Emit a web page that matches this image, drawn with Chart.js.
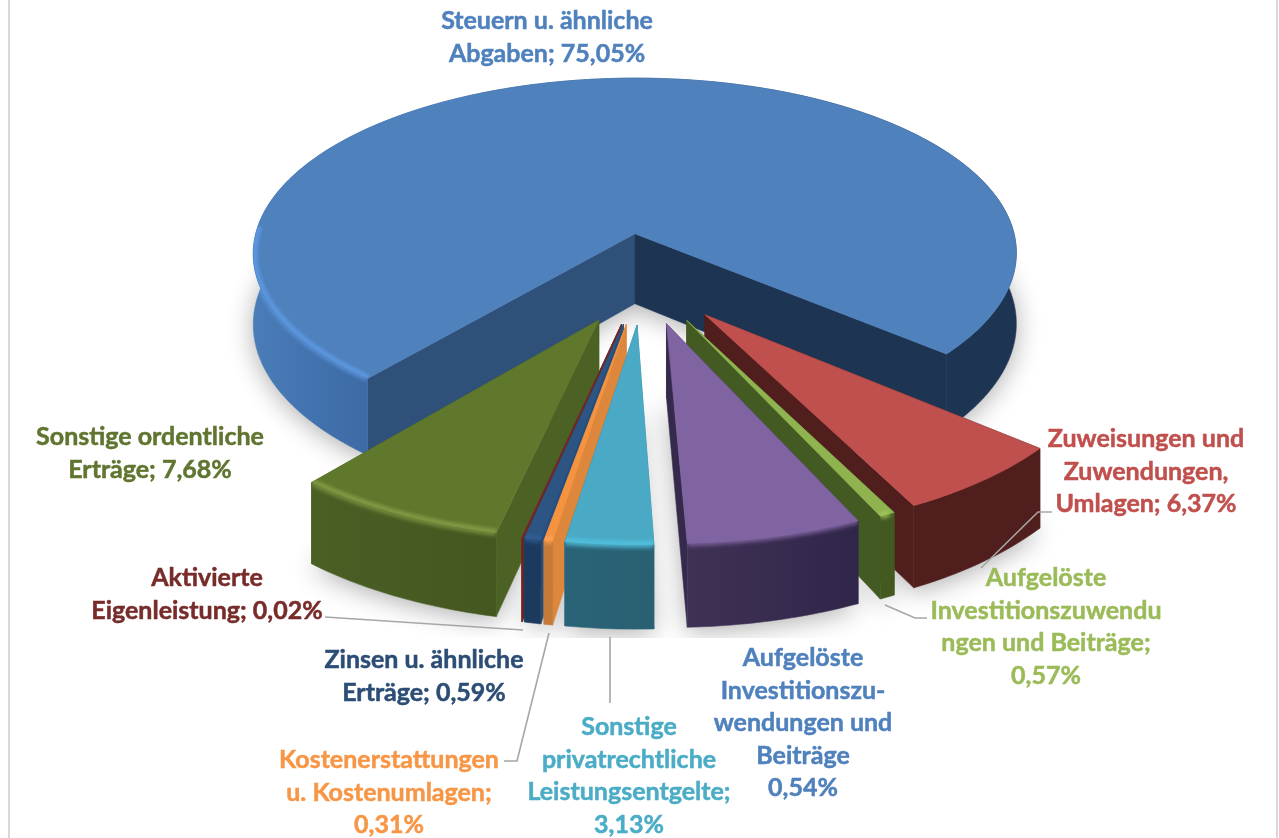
<!DOCTYPE html>
<html lang="de">
<head>
<meta charset="utf-8">
<title>Erträge</title>
<script src="https://cdn.jsdelivr.net/npm/chart.js@4/dist/chart.umd.min.js"></script>
<style>
    html, body { margin: 0; background: #fff; }
    canvas { display: block; }
</style>
</head>
<body>
<canvas id="pieChart" width="1279" height="838"></canvas>
<script>
// Slices clockwise, starting with the big blue one
const categories = [
    'Steuern u. ähnliche Abgaben',
    'Zuweisungen und Zuwendungen, Umlagen',
    'Aufgelöste Investitionszuwendungen und Beiträge (grün)',
    'Aufgelöste Investitionszuwendungen und Beiträge (lila)',
    'Sonstige privatrechtliche Leistungsentgelte',
    'Kostenerstattungen u. Kostenumlagen',
    'Zinsen u. ähnliche Erträge',
    'Aktivierte Eigenleistung',
    'Sonstige ordentliche Erträge'
];
// the purple slice is labelled 0,54% in the picture but is drawn about 6,28% wide
const sliceValues = [75.05, 6.37, 0.57, 6.28, 3.13, 0.31, 0.59, 0.02, 7.68];
const labelTexts = [
    ['Steuern u. ähnliche', 'Abgaben; 75,05%'],
    ['Zuweisungen und', 'Zuwendungen,', 'Umlagen; 6,37%'],
    ['Aufgelöste', 'Investitionszuwendu', 'ngen und Beiträge;', '0,57%'],
    ['Aufgelöste', 'Investitionszu-', 'wendungen und', 'Beiträge', '0,54%'],
    ['Sonstige', 'privatrechtliche', 'Leistungsentgelte;', '3,13%'],
    ['Kostenerstattungen', 'u. Kostenumlagen;', '0,31%'],
    ['Zinsen u. ähnliche', 'Erträge; 0,59%'],
    ['Aktivierte', 'Eigenleistung; 0,02%'],
    ['Sonstige ordentliche', 'Erträge; 7,68%']
];

// --- styles, same order as the slices ---
const topColors = ['#4f81bd', '#c0504d', '#8fb34e', '#8064a2', '#4aaac5', '#f59340', '#2c5583', '#772c2a', '#60782c'];
const rimColors = ['#5b95dc', '#c0504d', '#9cc25a', '#8064a2', '#50bcd8', '#fba052', '#2f5d92', '#772c2a', '#7d9642'];
const wallColors = [
    ['#4a7cb8', '#1d3553'], ['#501f1d', '#501f1d'], ['#43591f', '#43591f'], ['#3f3154', '#30264a'],
    ['#2a6377', '#2a6072'], ['#c47a38', '#c47a38'], ['#1c3a5e', '#1c3a5e'], ['#6b2523', '#6b2523'], ['#4a5f24', '#435720']
];
// first = face on the start edge, second = face on the end edge
const faceColors = [
    ['#2f5079', '#1d3553'], ['#501f1d', '#501f1d'], ['#435a22', '#435a22'], ['#362a4c', '#362a4c'],
    ['#2f8099', '#2f8099'], ['#dc873c', '#dc873c'], ['#264d7c', '#264d7c'], ['#6b2523', '#6b2523'], ['#4c6124', '#4c6124']
];
const labelColors = ['#4f81bd', '#c0504d', '#9bbb59', '#4f81bd', '#4bacc6', '#f79646', '#2c4d75', '#772c2a', '#5f7530'];
const labelCenters = [[547, 21], [1146, 439], [1046, 578], [803, 658], [629, 727], [389, 760], [424, 660], [207, 578], [150, 437]];
const lineHeight = 32.6;
const leaderLines = [
    [[325, 617], [523, 630]],
    [[504, 761], [517, 761], [549, 633]],
    [[610, 637], [610, 703]],
    [[1052, 512], [1038, 512], [981, 568]],
    [[927, 618], [915, 618], [885, 605]]
];
const drawOrder = [0, 8, 1, 2, 3, 7, 6, 5, 4];

// perspective of the tilted pie, in fractions of the radius
const tiltX = 0.975, tiltY = 0.4575, nearness = 0.115, depth = 72, shadowClipY = 638;

function project(arc, px, py, down) {
    const d = 1 - nearness * py;
    const r = arc.outerRadius;
    return {
        x: arc.x + r * tiltX * px / d,
        y: arc.y + r * tiltY * py / d + (down ? depth / d : 0)
    };
}

// tip and arc outline of one slice, exploded along its middle angle
function slicePoints(arc, down) {
    const mid = (arc.startAngle + arc.endAngle) / 2;
    const explode = arc.options.offset / arc.outerRadius;
    const ox = Math.cos(mid) * explode, oy = Math.sin(mid) * explode;
    const steps = Math.max(2, Math.ceil((arc.endAngle - arc.startAngle) * 60));
    const rim = [];
    for (let i = 0; i <= steps; i++) {
        const a = arc.startAngle + (arc.endAngle - arc.startAngle) * i / steps;
        const p = project(arc, ox + Math.cos(a), oy + Math.sin(a), down);
        // only the front left of the rim catches the light
        p.lit = Math.sin(a) > -0.05 && Math.cos(a) < 0.45;
        rim.push(p);
    }
    return { tip: project(arc, ox, oy, down), rim: rim };
}

function tracePoly(ctx, pts) {
    ctx.beginPath();
    pts.forEach((p, i) => i ? ctx.lineTo(p.x, p.y) : ctx.moveTo(p.x, p.y));
    ctx.closePath();
}

function fillPoly(ctx, pts, color) {
    tracePoly(ctx, pts);
    ctx.fillStyle = color;
    ctx.fill();
    ctx.strokeStyle = color;
    ctx.lineWidth = 0.6;
    ctx.stroke();
}

function strokeLitRim(ctx, rim, color, width, blur) {
    ctx.filter = 'blur(' + blur + 'px)';
    ctx.beginPath();
    rim.forEach((p, k) => {
        if (!p.lit) return;
        if (k && rim[k - 1].lit) ctx.lineTo(p.x, p.y);
        else ctx.moveTo(p.x, p.y);
    });
    ctx.strokeStyle = color;
    ctx.lineWidth = width;
    ctx.stroke();
}

function drawSlice(ctx, arc, i) {
    const top = slicePoints(arc, false);
    const bottom = slicePoints(arc, true);
    const last = top.rim.length - 1;

    // the two cut faces
    fillPoly(ctx, [top.tip, top.rim[0], bottom.rim[0], bottom.tip], faceColors[i][0]);
    fillPoly(ctx, [top.tip, top.rim[last], bottom.rim[last], bottom.tip], faceColors[i][1]);

    // outer wall, darker to the right
    const xs = top.rim.map(p => p.x);
    const grad = ctx.createLinearGradient(Math.min(...xs), 0, Math.max(...xs), 0);
    grad.addColorStop(0, wallColors[i][0]);
    if (i === 0) grad.addColorStop(0.16, '#3b69a3');
    if (i === 0) grad.addColorStop(0.8, '#1d3553');
    grad.addColorStop(1, wallColors[i][1]);
    fillPoly(ctx, top.rim.concat(bottom.rim.slice().reverse()), grad);

    // soft edge where the wall starts
    ctx.save();
    tracePoly(ctx, top.rim.concat(bottom.rim.slice().reverse()));
    ctx.clip();
    strokeLitRim(ctx, top.rim, rimColors[i], 5, 2);
    ctx.restore();

    // top surface with a light bevel along the rim
    const surface = [top.tip].concat(top.rim);
    fillPoly(ctx, surface, arc.options.backgroundColor);
    ctx.save();
    tracePoly(ctx, surface);
    ctx.clip();
    strokeLitRim(ctx, top.rim, rimColors[i], 9, 1.5);
    ctx.restore();
}

const pie3d = {
    id: 'pie3d',
    // the arcs are laid out by the library, this only draws them tilted
    beforeDatasetsDraw(chart) {
        const ctx = chart.ctx;
        const arcs = chart.getDatasetMeta(0).data;

        // soft shadow on the ground, cut off at the bottom of the picture box
        ctx.save();
        ctx.beginPath();
        ctx.rect(0, 0, chart.width, shadowClipY);
        ctx.clip();
        ctx.shadowColor = 'rgba(0,0,0,0.32)';
        ctx.shadowBlur = 26;
        ctx.shadowOffsetY = 4;
        arcs.forEach(arc => {
            const b = slicePoints(arc, true);
            tracePoly(ctx, [b.tip].concat(b.rim));
            ctx.fillStyle = '#fff';
            ctx.fill();
        });
        ctx.restore();

        drawOrder.forEach(i => drawSlice(ctx, arcs[i], i));
        return false;
    },
    afterDraw(chart) {
        const ctx = chart.ctx;

        // picture frame
        ctx.fillStyle = '#d9d9d9';
        ctx.fillRect(8, 0, 2, chart.height);
        ctx.fillRect(1276, 0, 2, chart.height);

        // leader lines
        ctx.strokeStyle = '#a6a6a6';
        ctx.lineWidth = 1.6;
        leaderLines.forEach(line => {
            ctx.beginPath();
            line.forEach((p, k) => k ? ctx.lineTo(p[0], p[1]) : ctx.moveTo(p[0], p[1]));
            ctx.stroke();
        });

        // data labels, a thin outline makes Lato as heavy as the original font
        ctx.font = 'bold 25px Lato';
        ctx.textAlign = 'center';
        ctx.textBaseline = 'middle';
        ctx.lineWidth = 0.5;
        labelTexts.forEach((lines, i) => {
            ctx.fillStyle = labelColors[i];
            ctx.strokeStyle = labelColors[i];
            lines.forEach((line, k) => {
                ctx.fillText(line, labelCenters[i][0], labelCenters[i][1] + k * lineHeight);
                ctx.strokeText(line, labelCenters[i][0], labelCenters[i][1] + k * lineHeight);
            });
        });
    }
};

new Chart(document.getElementById('pieChart').getContext('2d'), {
    type: 'pie',
    data: {
        labels: categories,
        datasets: [{
            data: sliceValues,
            backgroundColor: topColors,
            borderWidth: 0,
            offset: 100
        }]
    },
    options: {
        responsive: false,
        animation: false,
        rotation: 220,
        radius: 400,
        layout: { padding: { left: 7, bottom: 282 } },
        events: [],
        plugins: {
            legend: { display: false },
            tooltip: { enabled: false }
        }
    },
    plugins: [pie3d]
});
</script>
</body>
</html>
